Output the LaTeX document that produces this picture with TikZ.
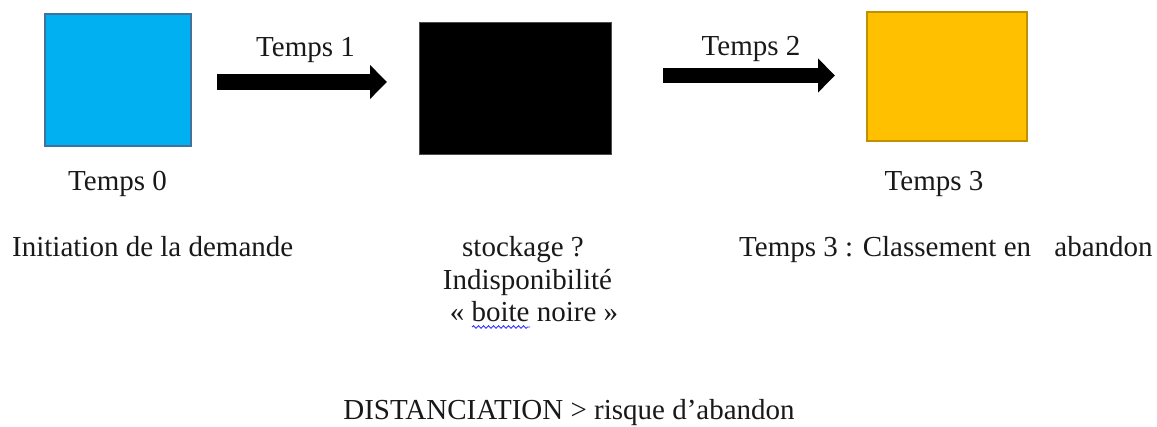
\documentclass[tikz,border=0pt]{standalone}
\usepackage{fontspec}
\setmainfont{Liberation Serif}
\usetikzlibrary{arrows.meta,decorations.pathmorphing}
\definecolor{cblue}{HTML}{00B0F0}
\definecolor{cblueb}{HTML}{41719C}
\definecolor{cyel}{HTML}{FFC000}
\definecolor{cyelb}{HTML}{BF9000}
\begin{document}
\begin{tikzpicture}[x=1pt,y=-1pt,
  box/.style={rectangle, inner sep=0pt, outer sep=0pt},
  txt/.style={inner sep=0pt, anchor=base, font=\fontsize{29}{31}\selectfont, text=black!90},
  txtw/.style={txt, anchor=base west},
  blockarrow/.style={line width=15.5pt, -{Triangle[length=17pt,width=33pt]}},
  squiggle/.style={draw=blue!80, line width=0.9pt, decorate, decoration={snake, amplitude=1.3pt, segment length=5pt}}]
\path[use as bounding box] (0,0) rectangle (1157,427);
% boxes
\node[box, fill=cblue, draw=cblueb, line width=1.5pt, minimum width=146pt, minimum height=132pt] (b0) at (118,80) {};
\node[box, fill=black, draw=black!70, line width=0.8pt, minimum width=192pt, minimum height=132pt] (b1) at (515,88) {};
\node[box, fill=cyel, draw=cyelb, line width=2pt, minimum width=160pt, minimum height=129pt] (b2) at (947,76.5) {};
% arrows
\coordinate (a1s) at (217,82);
\coordinate (a1e) at (387,82);
\coordinate (a2s) at (663,75.5);
\coordinate (a2e) at (835,75.5);
\draw[blockarrow] (a1s) -- (a1e);
\draw[blockarrow] (a2s) -- (a2e);
% labels
\node[txt] (t1) at (305.5,57) {Temps 1};
\node[txt] (t2) at (751,56) {Temps 2};
\node[txt] (t0) at (117.5,191) {Temps 0};
\node[txt] (t3) at (934,191) {Temps 3};
\node[txtw] (init) at (12,257) {Initiation de la demande};
\node[txt] (s1) at (523,257) {stockage ?};
\node[txt] (s2) at (527.5,290) {Indisponibilité};
\node[txt] (s3) at (534,321.5) {« boite noire »};
\node[txtw] (fin) at (739,257) {Temps 3 : Classement en\hspace{0.8em}abandon};
\node[txt] (dist) at (569,420) {DISTANCIATION > risque d’abandon};
% spell-check squiggle
\coordinate (w1) at (472,327);
\coordinate (w2) at (530,327);
\draw[squiggle] (w1) -- (w2);
\end{tikzpicture}
\end{document}
